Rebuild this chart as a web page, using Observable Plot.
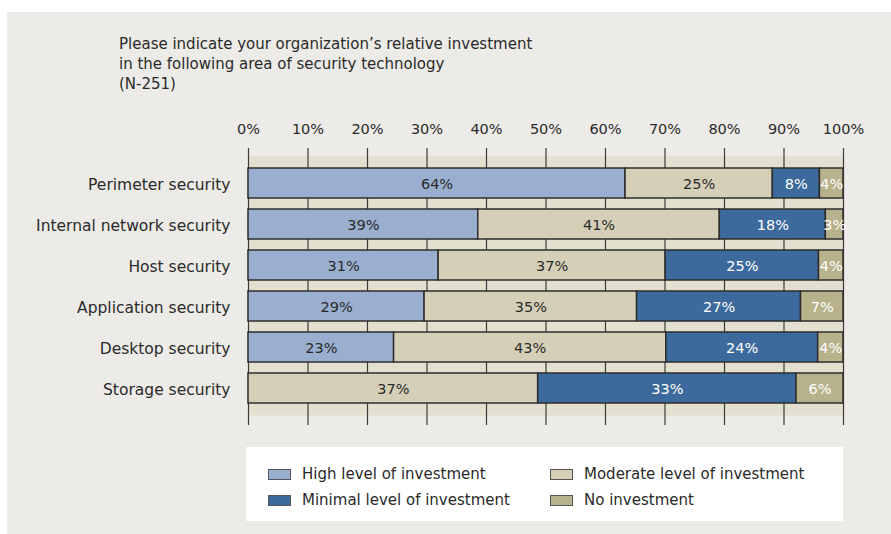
<!DOCTYPE html>
<html><head><meta charset="utf-8">
<script src="https://cdn.jsdelivr.net/npm/d3@7"></script>
<script src="https://cdn.jsdelivr.net/npm/@observablehq/plot@0.6"></script>
<style>
body{margin:0;background:#fff;width:891px;height:534px;overflow:hidden;position:relative;font-family:"DejaVu Sans",sans-serif;color:#2a2a2a}
#panel{position:absolute;left:7px;top:12px;width:884px;height:522px;background:#edebe7}
#title{position:absolute;left:119px;top:34px;font-family:"DejaVu Sans",sans-serif;font-size:15px;line-height:20px;color:#2a2a2a}
#chart{position:absolute;left:0;top:0}
#legend{position:absolute;left:246px;top:447px;width:597px;height:74px;background:#fff;font-size:15px;color:#2a2a2a}
.item{position:absolute;display:flex;align-items:center}
.sw{width:23px;height:11px;border:1.5px solid #555;margin-right:11px;box-sizing:border-box}
</style></head>
<body>
<div id="panel"></div>
<div id="title">Please indicate your organization’s relative investment<br>in the following area of security technology<br>(N-251)</div>
<div id="chart"></div>
<div id="legend"></div>
<script>
const categories = ["Perimeter security","Internal network security","Host security","Application security","Desktop security","Storage security"];
const seriesNames = ["High level of investment","Moderate level of investment","Minimal level of investment","No investment"];
const high     = [64, 39, 31, 29, 23, null];
const moderate = [25, 41, 37, 35, 43, 37];
const minimal  = [8, 18, 25, 27, 24, 33];
const none     = [4, 3, 4, 7, 4, 6];
const colors = ["#9aafcf","#d6cfb8","#3c6a9c","#b8b28c"];
const textColors = ["#2a2a2a","#2a2a2a","#ffffff","#ffffff"];
const xTicks = [0,0.1,0.2,0.3,0.4,0.5,0.6,0.7,0.8,0.9,1];

const seriesValues = [high, moderate, minimal, none];
const data = [];
categories.forEach((c, i) => seriesValues.forEach((vals, s) => {
  if (vals[i] != null) data.push({category: c, series: seriesNames[s], value: vals[i]});
}));

const stackOpts = {x: "value", y: "category", z: "series", offset: "normalize", order: seriesNames};

const plot = Plot.plot({
  width: 891, height: 425,
  marginLeft: 248, marginRight: 48, marginTop: 148, marginBottom: 0,
  style: {background: "transparent", fontFamily: "DejaVu Sans, sans-serif", color: "#2a2a2a"},
  x: {domain: [0, 1], label: null},
  y: {domain: categories, range: [156.5, 414.5], padding: 0.28, label: null},
  color: {domain: seriesNames, range: colors},
  marks: [
    Plot.frame({fill: "#e3e0d0", stroke: null, insetTop: 8, insetBottom: 10}),
    Plot.ruleX(xTicks, {stroke: "#3a3a3a", strokeWidth: 1.2}),
    Plot.barX(data, Plot.stackX({...stackOpts, fill: "series", stroke: "#2e2e2e", strokeWidth: 1.5})),
    Plot.text(data, Plot.stackX({...stackOpts, text: d => d.value + "%",
      fill: d => textColors[seriesNames.indexOf(d.series)], fontSize: 14.5, dy: 1})),
    Plot.axisX(xTicks, {anchor: "top", tickSize: 0, tickPadding: 15, tickFormat: d => Math.round(d*100) + "%", fontSize: 14.5, label: null}),
    Plot.axisY({tickSize: 0, tickPadding: 18, fontSize: 15.5, dy: 2, label: null})
  ]
});
document.getElementById("chart").appendChild(plot);

const legend = document.getElementById("legend");
const pos = [[22, 18], [304, 18], [22, 44], [304, 44]];
[0, 1, 2, 3].forEach((s, k) => {
  const it = document.createElement("div");
  it.className = "item";
  it.style.left = pos[k][0] + "px"; it.style.top = pos[k][1] + "px";
  const sw = document.createElement("div"); sw.className = "sw"; sw.style.background = colors[s];
  const tx = document.createElement("span"); tx.textContent = seriesNames[s];
  it.appendChild(sw); it.appendChild(tx); legend.appendChild(it);
});
</script>
</body></html>
